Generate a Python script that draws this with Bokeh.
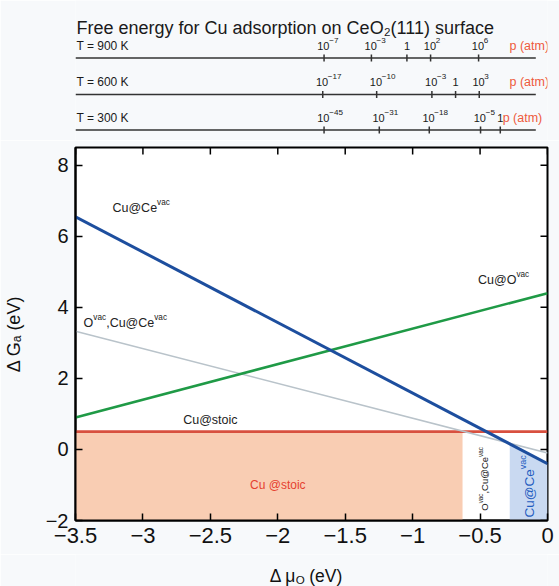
import math
import numpy as np
from bokeh.plotting import figure
from bokeh.models import Range1d, FixedTicker, CustomJSTickFormatter
from bokeh.layouts import column
from bokeh.core.properties import value
from bokeh.embed import file_html
from bokeh.resources import INLINE

# ---------------- data ----------------
mu_ends = [-3.5, 0.0]
dg_cu_ce_vac = [6.55, -0.40]        # blue  Cu@Ce^vac
dg_cu_o_vac = [0.90, 4.40]          # green Cu@O^vac
dg_ovac_cu_ce_vac = [3.33, -0.10]   # grey  O^vac,Cu@Ce^vac
dg_cu_stoic = [0.50, 0.50]          # red   Cu@stoic
phase_edges = [-3.5, -0.63, -0.28, 0.0]   # stability region boundaries
x_ticks = [-3.5, -3, -2.5, -2, -1.5, -1, -0.5, 0]
y_ticks = [-2, 0, 2, 4, 6, 8]

temps = ["T = 900 K", "T = 600 K", "T = 300 K"]
p_mu_900 = [-1.61, -1.25, -0.98, -0.80, -0.435]
p_lab_900 = [("10", "\u22127"), ("10", "\u22123"), ("1", ""), ("10", "2"), ("10", "6")]
p_mu_600 = [-1.62, -1.21, -0.79, -0.61, -0.43]
p_lab_600 = [("10", "\u221217"), ("10", "\u221210"), ("10", "\u22123"), ("1", ""), ("10", "3")]
p_mu_300 = [-1.61, -1.19, -0.81, -0.42, -0.27]
p_lab_300 = [("10", "\u221245"), ("10", "\u221231"), ("10", "\u221218"), ("10", "\u22125"), ("1", "")]

# ---------------- geometry / style ----------------
FONT = "Liberation Sans"
BG = "#f7f9fb"
W = 559
TOP_H = 140
MAIN_H = 414
BOT_H = 32
FL, FR, FT, FB = 75, 12, 7, 34
XR = (-3.5, 0.0)
YR = (-2.0, 8.5)
kx = (W - FL - FR) / (XR[1] - XR[0])            # px per x unit
ky = (MAIN_H - FT - FB) / (YR[1] - YR[0])       # px (up) per y unit
XR_EXT = (XR[0], XR[1] + FR / kx)               # strips: frame runs to the right edge

CW = {' ': 278, 'C': 722, 'u': 556, '@': 1015, 'e': 556, 'O': 778, 'v': 500, 'a': 556,
      'c': 500, ',': 278, 's': 500, 't': 278, 'o': 556, 'i': 222, '\u2212': 584, 'T': 611,
      '=': 584, 'K': 667, 'p': 556, '(': 333, ')': 333, 'm': 833, '\u0394': 668,
      '\u03bc': 576, 'G': 778, 'V': 667, 'F': 611, 'r': 333, 'n': 556, 'g': 556,
      'y': 500, 'f': 278, 'd': 556}


def tw(s, size):
    return sum(CW.get(ch, 556) for ch in s) / 1000.0 * size


def rich(fig, x, y, parts, size, color, kxx, kyy, angle=0.0, align="left",
         weight="normal", ratio=0.66):
    items = []
    for t, k in parts:
        fs = size if k == "n" else size * ratio
        shift = 0.0 if k == "n" else (0.42 * size if k == "sup" else -0.20 * size)
        items.append((t, fs, shift, tw(t, fs)))
    total = sum(it[3] for it in items)
    pos = {"left": 0.0, "center": -total / 2.0, "right": -total}[align]
    ux, uy = math.cos(angle), math.sin(angle)
    nx, ny = -math.sin(angle), math.cos(angle)
    for t, fs, shift, w in items:
        lead = len(t) - len(t.lstrip(" "))
        if lead:
            pos += tw(" " * lead, fs)
            w -= tw(" " * lead, fs)
            t = t.lstrip(" ")
        dx = pos * ux + shift * nx
        dy = pos * uy + shift * ny
        fig.text(x=[x + dx / kxx], y=[y + dy / kyy], text=[t], text_font=value(FONT),
                 text_font_size=value(f"{fs:.1f}px"), text_color=color, angle=angle,
                 text_align="left", text_baseline="alphabetic", text_font_style=weight)
        pos += w


def strip(height):
    f = figure(width=W, height=height, x_range=Range1d(*XR_EXT), y_range=Range1d(height, 0),
               output_backend="svg", toolbar_location=None, x_axis_location=None,
               y_axis_location=None, min_border_left=FL, min_border_right=0,
               min_border_top=0, min_border_bottom=0, background_fill_color=BG,
               border_fill_color=BG, outline_line_color=None)
    f.grid.visible = False
    return f


def spx(px):
    return XR[0] + (px - FL) / kx


# ---------------- top strip: pressure scales ----------------
top = strip(TOP_H)
rich(top, spx(76), 27, [("Free energy for Cu adsorption on CeO\u2082(111) surface", "n")],
     18, "#1a1a1a", kx, -1)

rows = [(p_mu_900, p_lab_900, 45, 57.5, 520),
        (p_mu_600, p_lab_600, 81, 94, 520),
        (p_mu_300, p_lab_300, 117, 129.5, 513)]
for (mus, labs, base_y, line_y, patm_px), tname in zip(rows, temps):
    top.line(x=mu_ends, y=[line_y, line_y], line_color="#333333", line_width=1.6)
    top.segment(x0=mus, y0=[line_y - 3.5] * len(mus), x1=mus, y1=[line_y + 3.5] * len(mus),
                line_color="#333333", line_width=1.5)
    rich(top, spx(76), base_y, [(tname, "n")], 12, "#1a1a1a", kx, -1)
    for m, (b, e) in zip(mus, labs):
        if e:
            rich(top, m - 7 / kx, base_y, [(b, "n"), (e, "sup")], 11, "#1a1a1a", kx, -1,
                 ratio=0.74)
        else:
            rich(top, m, base_y, [(b, "n")], 11, "#1a1a1a", kx, -1, align="center")
    rich(top, spx(patm_px), base_y, [("p (atm)", "n")], 12.5, "#ee5a3c", kx, -1)

# ---------------- main plot ----------------
p = figure(width=W, height=MAIN_H, x_range=Range1d(*XR), y_range=Range1d(*YR),
           output_backend="svg", toolbar_location=None,
           min_border_left=FL, min_border_right=FR, min_border_top=FT, min_border_bottom=FB,
           background_fill_color="white", border_fill_color=BG,
           outline_line_color="black", outline_line_width=2)
p.grid.visible = False

# stability regions
p.quad(left=[phase_edges[0]], right=[phase_edges[1]], bottom=[YR[0]], top=[dg_cu_stoic[0]],
       fill_color="#f9cdb3", line_color=None)
blue_top_l = float(np.interp(phase_edges[2], mu_ends, dg_cu_ce_vac))
p.patch(x=[phase_edges[2], phase_edges[2], phase_edges[3], phase_edges[3]],
        y=[YR[0], blue_top_l, dg_cu_ce_vac[1], YR[0]],
        fill_color="#c9d9f1", line_color=None)

# free energy lines
p.line(x=mu_ends, y=dg_cu_stoic, line_color="#d8503f", line_width=2.8)
p.line(x=mu_ends, y=dg_ovac_cu_ce_vac, line_color="#b9c3ca", line_width=1.6)
p.line(x=mu_ends, y=dg_cu_o_vac, line_color="#1f9a46", line_width=2.6)
p.line(x=mu_ends, y=dg_cu_ce_vac, line_color="#1d4e9e", line_width=3.0)

# inward ticks on the top and right frame edges
p.segment(x0=x_ticks, y0=[YR[1]] * len(x_ticks), x1=x_ticks,
          y1=[YR[1] - 7 / ky] * len(x_ticks), line_color="black", line_width=1.5)
p.segment(x0=[XR[1]] * len(y_ticks), y0=y_ticks, x1=[XR[1] - 7 / kx] * len(y_ticks),
          y1=y_ticks, line_color="black", line_width=1.5)

# in-plot labels
rich(p, -3.226, 6.81, [("Cu@Ce", "n"), ("vac", "sup")], 12.5, "#222222", kx, ky)
rich(p, -3.44, 3.57, [("O", "n"), ("vac", "sup"), (",Cu@Ce", "n"), ("vac", "sup")],
     12.5, "#222222", kx, ky)
rich(p, -0.515, 4.78, [("Cu@O", "n"), ("vac", "sup")], 12.5, "#222222", kx, ky)
rich(p, -2.5, 0.84, [("Cu@stoic", "n")], 12.5, "#222222", kx, ky, align="center")
rich(p, -2.0, -0.99, [("Cu @stoic", "n")], 12, "#e5412f", kx, ky, align="center")
rich(p, -0.467, -0.83, [("O", "n"), ("vac", "sup"), (",Cu@Ce", "n"), ("vac", "sup")],
     9.5, "#222222", kx, ky, angle=math.pi / 2, align="center")
rich(p, -0.137, -1.04, [("Cu@Ce", "n"), ("vac", "sup")], 13.5, "#1f5cc0", kx, ky,
     angle=math.pi / 2, align="center")

# axes
fmt = CustomJSTickFormatter(code="return String(tick).replace('-', '\\u2212');")
for ax in (p.xaxis[0], p.yaxis[0]):
    ax.formatter = fmt
    ax.axis_line_width = 2
    ax.major_tick_in = 7
    ax.major_tick_out = 0
    ax.major_tick_line_width = 1.5
    ax.minor_tick_line_color = None
    ax.major_label_text_font = FONT
    ax.major_label_text_color = "#111111"
p.xaxis[0].ticker = FixedTicker(ticks=x_ticks)
p.yaxis[0].ticker = FixedTicker(ticks=y_ticks)
p.xaxis[0].major_label_text_font_size = "22px"
p.yaxis[0].major_label_text_font_size = "20px"
p.xaxis[0].major_label_standoff = 7
p.yaxis[0].major_label_standoff = 7

p.yaxis[0].axis_label = "\u0394 G\u2090 (eV)"
p.yaxis[0].axis_label_text_font = FONT
p.yaxis[0].axis_label_text_font_size = "18px"
p.yaxis[0].axis_label_text_font_style = "normal"
p.yaxis[0].axis_label_text_color = "#111111"
p.yaxis[0].axis_label_standoff = 19

# ---------------- bottom strip: x axis title ----------------
bot = strip(BOT_H)
rich(bot, (XR[0] + XR[1]) / 2, 21, [("\u0394 \u03bc", "n"), ("O", "sub"), (" (eV)", "n")],
     17.5, "#111111", kx, -1, align="center")

layout = column(top, p, bot, spacing=0)
open("out.html", "w").write(file_html(layout, INLINE))
